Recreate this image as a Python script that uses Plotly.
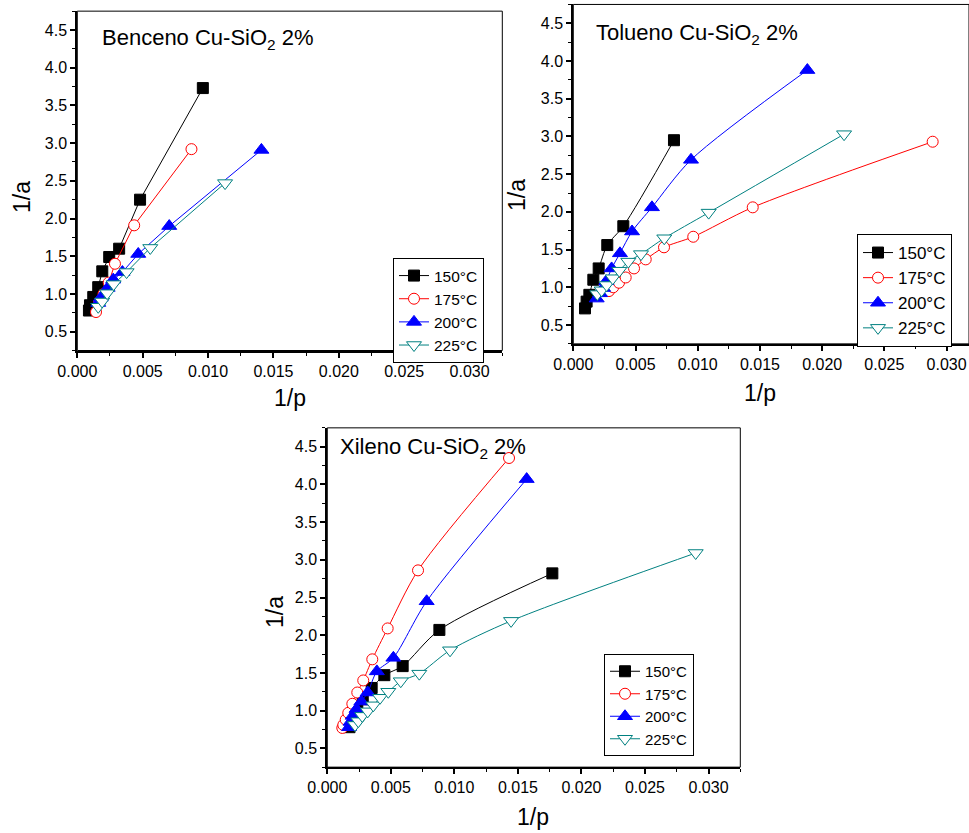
import plotly.graph_objects as go

# ---------------- data ----------------
temps = ["150°C", "175°C", "200°C", "225°C"]

# Benceno
ben_150_x = [0.00089, 0.00097, 0.00122, 0.00160, 0.00191, 0.00244, 0.00320, 0.00480, 0.00960]
ben_150_y = [0.78, 0.85, 0.96, 1.09, 1.30, 1.49, 1.60, 2.25, 3.73]
ben_175_x = [0.00143, 0.00165, 0.00200, 0.00240, 0.00288, 0.00435, 0.00873]
ben_175_y = [0.76, 0.88, 1.00, 1.15, 1.40, 1.91, 2.92]
ben_200_x = [0.00160, 0.00179, 0.00232, 0.00275, 0.00345, 0.00466, 0.00703, 0.01408]
ben_200_y = [0.88, 0.95, 1.08, 1.19, 1.29, 1.53, 1.90, 2.91]
ben_225_x = [0.00160, 0.00190, 0.00228, 0.00278, 0.00377, 0.00558, 0.01130]
ben_225_y = [0.83, 0.90, 1.01, 1.13, 1.29, 1.61, 2.47]

# Tolueno
tol_150_x = [0.00094, 0.00107, 0.00129, 0.00161, 0.00204, 0.00273, 0.00402, 0.00809]
tol_150_y = [0.72, 0.81, 0.90, 1.10, 1.25, 1.56, 1.81, 2.95]
tol_175_x = [0.00287, 0.00321, 0.00367, 0.00421, 0.00488, 0.00582, 0.00729, 0.00964, 0.01442, 0.02888]
tol_175_y = [0.95, 1.00, 1.06, 1.13, 1.25, 1.37, 1.53, 1.67, 2.06, 2.93]
tol_200_x = [0.00188, 0.00215, 0.00240, 0.00265, 0.00308, 0.00375, 0.00472, 0.00632, 0.00946, 0.01881]
tol_200_y = [0.85, 0.92, 0.99, 1.08, 1.25, 1.45, 1.74, 2.06, 2.69, 3.88]
tol_225_x = [0.00193, 0.00228, 0.00268, 0.00317, 0.00370, 0.00442, 0.00544, 0.00731, 0.01088, 0.02176]
tol_225_y = [0.91, 0.96, 1.03, 1.12, 1.22, 1.34, 1.44, 1.65, 1.99, 3.03]

# Xileno
xil_150_x = [0.00175, 0.00190, 0.00205, 0.00236, 0.00279, 0.00349, 0.00449, 0.00593, 0.00882, 0.01771]
xil_150_y = [0.78, 0.87, 0.96, 1.04, 1.15, 1.30, 1.47, 1.59, 2.07, 2.82]
xil_175_x = [0.00118, 0.00126, 0.00145, 0.00165, 0.00197, 0.00236, 0.00283, 0.00354, 0.00475, 0.00714, 0.01430]
xil_175_y = [0.77, 0.81, 0.88, 0.97, 1.09, 1.24, 1.40, 1.68, 2.09, 2.86, 4.35]
xil_200_x = [0.00171, 0.00183, 0.00200, 0.00230, 0.00268, 0.00318, 0.00390, 0.00520, 0.00782, 0.01569]
xil_200_y = [0.78, 0.85, 0.93, 1.02, 1.12, 1.24, 1.52, 1.70, 2.45, 4.07]
xil_225_x = [0.00218, 0.00244, 0.00275, 0.00318, 0.00362, 0.00415, 0.00480, 0.00578, 0.00724, 0.00966, 0.01446, 0.02899]
xil_225_y = [0.81, 0.86, 0.93, 0.99, 1.07, 1.17, 1.25, 1.39, 1.49, 1.80, 2.19, 3.09]

panel_titles = ["Benceno Cu-SiO<sub>2</sub> 2%", "Tolueno Cu-SiO<sub>2</sub> 2%", "Xileno Cu-SiO<sub>2</sub> 2%"]
x_label = "1/p"
y_label = "1/a"

# ---------------- styles ----------------
FONT = "Liberation Sans, Arial, sans-serif"
W, H = 969, 833
styles = [
    dict(color="black", symbol="square", fill="black", size=11),
    dict(color="#FF0000", symbol="circle", fill="white", size=11),
    dict(color="#0000FF", symbol="triangle-up", fill="#0000FF", size=13),
    dict(color="#008080", symbol="triangle-down", fill="white", size=13),
]

panels = [
    dict(data=[(ben_150_x, ben_150_y), (ben_175_x, ben_175_y), (ben_200_x, ben_200_y), (ben_225_x, ben_225_y)],
         shape="linear", left=77.3, right=502.3, top=11.15, bottom=350.5, xmax=0.0325,
         legend=(393, 258, 15.5), title=(100, 39), ylab=(22, 197), xlab=(290, 398)),
    dict(data=[(tol_150_x, tol_150_y), (tol_175_x, tol_175_y), (tol_200_x, tol_200_y), (tol_225_x, tol_225_y)],
         shape="spline", left=573.3, right=969, top=4.45, bottom=343.85, xmax=0.0318,
         legend=(857, 234, 17), title=(594, 34), ylab=(517, 195), xlab=(760, 393)),
    dict(data=[(xil_150_x, xil_150_y), (xil_175_x, xil_175_y), (xil_200_x, xil_200_y), (xil_225_x, xil_225_y)],
         shape="spline", left=327.3, right=740.3, top=427.85, bottom=767.15, xmax=0.0325,
         legend=(604, 654, 15), title=(338, 448), ylab=(275, 612), xlab=(533, 817)),
]

fig = go.Figure()
layout = dict(width=W, height=H, margin=dict(l=0, r=0, t=0, b=0, autoexpand=False),
              paper_bgcolor="white", plot_bgcolor="white",
              font=dict(family=FONT, color="black"), annotations=[], shapes=[])

for i, p in enumerate(panels):
    sfx = "" if i == 0 else str(i + 1)
    lg = "legend" if i == 0 else "legend" + str(i + 1)
    for (xs, ys), st, name in zip(p["data"], styles, temps):
        fig.add_trace(go.Scatter(
            x=xs, y=ys, mode="lines+markers", name=name,
            xaxis="x" + sfx, yaxis="y" + sfx, legend=lg,
            line=dict(color=st["color"], width=1, shape=p["shape"], smoothing=0.8),
            marker=dict(symbol=st["symbol"], size=st["size"], color=st["fill"],
                        line=dict(color=st["color"], width=1)),
            cliponaxis=False,
        ))
    layout["xaxis" + sfx] = dict(
        domain=[p["left"] / W, p["right"] / W], anchor="y" + sfx, automargin=False,
        range=[0, p["xmax"]], tick0=0, dtick=0.005, tickformat=".3f",
        ticks="outside", ticklen=5, tickwidth=1.5, tickcolor="black",
        minor=dict(ticks="outside", dtick=0.0025, ticklen=3, tickwidth=1, tickcolor="black"),
        showline=True, linewidth=2, linecolor="black", showgrid=False, zeroline=False,
        tickfont=dict(size=16, family=FONT, color="black"),
    )
    layout["yaxis" + sfx] = dict(
        domain=[1 - p["bottom"] / H, 1 - p["top"] / H], anchor="x" + sfx, automargin=False,
        range=[0.25, 4.75], tick0=0.5, dtick=0.5, tickformat=".1f",
        ticks="outside", ticklen=5, tickwidth=1.5, tickcolor="black",
        minor=dict(ticks="outside", dtick=0.25, ticklen=3, tickwidth=1, tickcolor="black"),
        showline=True, linewidth=2, linecolor="black", showgrid=False, zeroline=False,
        tickfont=dict(size=16, family=FONT, color="black"),
    )
    lx, ly, lfs = p["legend"]
    layout[lg] = dict(x=lx / W, y=1 - ly / H, xanchor="left", yanchor="top",
                      bordercolor="black", borderwidth=1, bgcolor="white",
                      font=dict(size=lfs, family=FONT, color="black"),
                      tracegroupgap=0, itemwidth=30)
    layout["shapes"].append(dict(type="rect", xref="x" + sfx + " domain", yref="y" + sfx + " domain",
                                 x0=0, x1=1, y0=0, y1=1, line=dict(color="black", width=1),
                                 layer="above"))
    tx, ty = p["title"]
    layout["annotations"].append(dict(text=panel_titles[i], x=tx / W, y=1 - ty / H, xref="paper", yref="paper",
                                      xanchor="left", yanchor="middle", showarrow=False,
                                      font=dict(size=22, family=FONT, color="black")))
    ax, ay = p["ylab"]
    layout["annotations"].append(dict(text=y_label, x=ax / W, y=1 - ay / H, xref="paper", yref="paper",
                                      xanchor="center", yanchor="middle", showarrow=False, textangle=-90,
                                      font=dict(size=23, family=FONT, color="black")))
    bx, by = p["xlab"]
    layout["annotations"].append(dict(text=x_label, x=bx / W, y=1 - by / H, xref="paper", yref="paper",
                                      xanchor="center", yanchor="middle", showarrow=False,
                                      font=dict(size=23, family=FONT, color="black")))

fig.update_layout(**layout)
fig.write_html("out.html")
